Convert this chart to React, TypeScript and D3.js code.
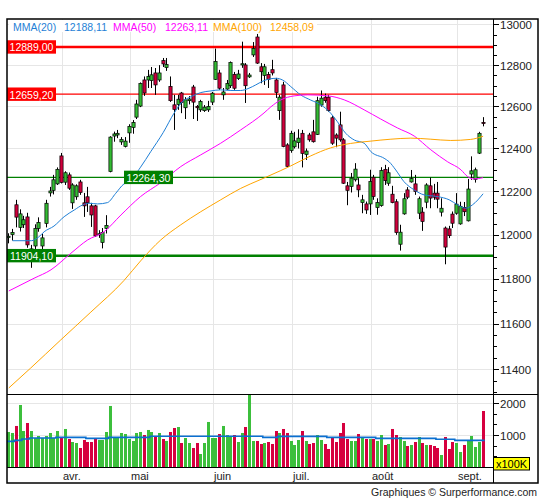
import { useEffect, useRef } from "react";
import * as d3 from "d3";

// daily candles: open, high, low, close
const ohlc: [number, number, number, number][] = [
  [11986, 12006, 11960, 11992], [12000, 12026, 11973, 12010], [12137, 12160, 12033, 12080], [12033, 12116, 12014, 12095],
  [12045, 12086, 12030, 12068], [12081, 12100, 11940, 11953], [11890, 11953, 11849, 11935], [11948, 12047, 11931, 12028],
  [12028, 12079, 12013, 12056], [11948, 12003, 11926, 11985], [12051, 12160, 12033, 12144], [12192, 12220, 12175, 12201],
  [12204, 12276, 12185, 12253], [12234, 12311, 12229, 12302], [12365, 12379, 12236, 12241], [12242, 12293, 12229, 12286],
  [12276, 12287, 12206, 12214], [12146, 12237, 12118, 12229], [12174, 12232, 12160, 12225], [12243, 12253, 12183, 12194],
  [12146, 12192, 12081, 12132], [12174, 12220, 12104, 12146], [12132, 12146, 12035, 12090], [12132, 12137, 11990, 11994],
  [12000, 12020, 11985, 12004], [11964, 12030, 11937, 12010], [12028, 12089, 12005, 12042], [12292, 12458, 12288, 12454],
  [12459, 12480, 12432, 12469], [12464, 12488, 12449, 12472], [12431, 12454, 12417, 12442], [12410, 12454, 12405, 12435],
  [12474, 12515, 12427, 12505], [12500, 12535, 12470, 12524], [12549, 12632, 12540, 12612], [12602, 12716, 12597, 12711],
  [12728, 12745, 12651, 12665], [12728, 12777, 12689, 12745], [12725, 12791, 12689, 12753], [12762, 12786, 12656, 12704],
  [12728, 12800, 12719, 12762], [12822, 12835, 12791, 12806], [12788, 12835, 12772, 12803], [12697, 12745, 12622, 12628],
  [12608, 12656, 12488, 12586], [12610, 12656, 12584, 12635], [12665, 12670, 12568, 12619], [12594, 12645, 12540, 12632],
  [12628, 12650, 12610, 12636], [12694, 12704, 12540, 12621], [12600, 12607, 12531, 12594], [12584, 12632, 12574, 12624],
  [12580, 12607, 12574, 12597], [12584, 12627, 12574, 12600], [12621, 12670, 12607, 12664], [12731, 12881, 12728, 12818],
  [12762, 12777, 12680, 12688], [12656, 12689, 12632, 12670], [12684, 12728, 12680, 12711], [12700, 12818, 12689, 12813],
  [12755, 12767, 12680, 12688], [12735, 12777, 12728, 12757], [12801, 12915, 12787, 12807], [12801, 12810, 12617, 12700],
  [12743, 12762, 12738, 12752], [12850, 12913, 12840, 12882], [12938, 12953, 12806, 12810], [12792, 12810, 12712, 12768],
  [12750, 12806, 12704, 12792], [12755, 12767, 12689, 12731], [12778, 12826, 12750, 12762], [12728, 12738, 12641, 12667],
  [12580, 12656, 12536, 12645], [12704, 12719, 12406, 12409], [12417, 12425, 12313, 12316], [12390, 12484, 12380, 12472],
  [12408, 12479, 12400, 12436], [12428, 12491, 12400, 12449], [12472, 12488, 12311, 12377], [12372, 12400, 12346, 12388],
  [12464, 12474, 12432, 12441], [12479, 12536, 12428, 12432], [12467, 12647, 12464, 12628], [12607, 12677, 12599, 12640],
  [12645, 12662, 12618, 12628], [12645, 12656, 12575, 12580], [12546, 12554, 12417, 12425], [12464, 12472, 12406, 12449],
  [12512, 12575, 12432, 12441], [12441, 12449, 12234, 12237], [12225, 12243, 12135, 12204], [12222, 12285, 12194, 12261],
  [12253, 12331, 12245, 12303], [12229, 12261, 12172, 12206], [12147, 12183, 12098, 12160], [12141, 12152, 12095, 12113],
  [12141, 12300, 12090, 12245], [12265, 12276, 12160, 12175], [12124, 12167, 12091, 12147], [12133, 12312, 12128, 12296],
  [12302, 12323, 12229, 12249], [12237, 12312, 12225, 12286], [12186, 12225, 12144, 12147], [12151, 12163, 11999, 12009],
  [11956, 12045, 11927, 12011], [12095, 12191, 12091, 12165], [12206, 12219, 12163, 12172], [12243, 12299, 12240, 12259],
  [12234, 12276, 12183, 12198], [12098, 12175, 12071, 12165], [12103, 12126, 12017, 12060], [12149, 12237, 12121, 12229],
  [12225, 12264, 12121, 12168], [12191, 12234, 12160, 12172], [12191, 12243, 12121, 12163], [12103, 12167, 12083, 12121],
  [12030, 12037, 11865, 11943], [12026, 12040, 11984, 11995], [12094, 12106, 12030, 12052], [12098, 12191, 12091, 12140],
  [12049, 12151, 12045, 12130], [12125, 12150, 12085, 12105], [12063, 12257, 12060, 12210], [12280, 12363, 12253, 12295],
  [12255, 12310, 12240, 12300], [12378, 12479, 12374, 12472], [12524, 12549, 12505, 12518],
];

// volume, in units of 100K
const volumes = [
  1094, 1063, 1282, 1938, 1125, 1375, 1125, 906, 969, 906,
  969, 1063, 906, 1125, 938, 1188, 875, 781, 750, 594,
  844, 781, 781, 906, 844, 844, 1094, 1907, 938, 906,
  1063, 1031, 875, 813, 1063, 1094, 1000, 1157, 1094, 969,
  1063, 875, 813, 1094, 1219, 1250, 750, 906, 750, 594,
  750, 406, 750, 1407, 906, 906, 1031, 1282, 1000, 969,
  1000, 781, 1063, 1250, 2300, 813, 813, 719, 750, 781,
  719, 1125, 1063, 1188, 1063, 813, 688, 844, 1125, 813,
  719, 750, 1000, 844, 719, 563, 906, 781, 1063, 1375,
  875, 813, 813, 1031, 938, 875, 875, 875, 813, 1000,
  688, 719, 1188, 1000, 938, 813, 656, 688, 781, 938,
  750, 688, 688, 656, 594, 375, 938, 563, 781, 750,
  469, 688, 844, 969, 625, 781, 1750,
];

// moving averages: [bar index, value]
const ma20: [number, number][] = [
  [1, 11972], [6, 11972], [8, 11990], [9.4, 12013], [12, 12039], [14.7, 12082], [17.4, 12113], [19.6, 12136],
  [21.3, 12144], [23.6, 12141], [26.2, 12147], [28.4, 12190], [30.6, 12234], [32, 12245], [35, 12312],
  [37.7, 12385], [41, 12475], [43.9, 12568], [46.1, 12623], [48.4, 12647], [51, 12667], [53.7, 12675],
  [56.3, 12680], [59, 12677], [61.6, 12677], [63.8, 12688], [65.6, 12704], [67.8, 12725], [71, 12736],
  [72.7, 12728], [74.9, 12696], [77.6, 12655], [80.2, 12631], [82.9, 12608], [85.5, 12568], [87.3, 12527],
  [89.5, 12472], [91.8, 12440], [94.4, 12425], [96.2, 12385], [99.7, 12354], [101, 12338], [102.8, 12299],
  [105, 12244], [107.7, 12206], [110.3, 12183], [113.9, 12175], [117, 12160], [119.2, 12137], [121.4, 12121],
  [123.2, 12137], [126, 12188],
];
const ma50: [number, number][] = [
  [0, 11745], [6.7, 11802], [11.2, 11840], [16.5, 11915], [20.9, 11975], [25.3, 12013], [29.8, 12090],
  [35, 12175], [40.4, 12240], [45.7, 12315], [51, 12370], [56.3, 12425], [61.6, 12488], [67.8, 12569],
  [69.6, 12598], [72.3, 12632], [75.8, 12651], [79.4, 12656], [84.8, 12651], [89.1, 12632], [94.4, 12584],
  [98.8, 12540], [103.3, 12497], [107.7, 12459], [112.1, 12394], [116.6, 12337], [120.1, 12300],
  [121.9, 12268], [123.6, 12257], [126, 12263],
];
const ma100: [number, number][] = [
  [0, 11319], [5.8, 11405], [13.8, 11528], [21.8, 11651], [30.6, 11792], [35, 11880], [40.4, 11976],
  [45.7, 12045], [51, 12105], [56.3, 12160], [61.6, 12213], [67, 12255], [72.1, 12295], [74.9, 12318],
  [80.2, 12365], [85.5, 12403], [90.8, 12424], [96.2, 12435], [101.5, 12444], [106.8, 12449],
  [112.1, 12444], [117.4, 12438], [122.7, 12443], [126, 12458],
];

// average volume, stepped: start bar and value
const volAvgStarts = [0, 2, 4, 6, 13, 21, 27, 38, 68, 72, 85, 98, 114, 119];
const volAvgValues = [802, 833, 875, 906, 927, 896, 927, 962, 927, 958, 927, 896, 865, 833];

const monthStarts = [14, 32, 54, 75, 96, 119];
const monthLabels = ["avr.", "mai", "juin", "juil.", "août", "sept."];
const priceTicks = [11400, 11600, 11800, 12000, 12200, 12400, 12600, 12800, 13000];
const volumeTicks = [1000, 2000];

const levelValues = [12889.0, 12659.2, 12264.3, 11904.1];
const levelLabels = ["12889,00", "12659,20", "12264,30", "11904,10"];

const legendNames = ["MMA(20)", "MMA(50)", "MMA(100)"];
const legendValues = ["12188,11", "12263,11", "12458,09"];

const FONT = "'Liberation Sans', Arial, sans-serif";
const GREEN = "#33bb33";
const RED = "#d0003c";

export default function App() {
  const svgRef = useRef<SVGSVGElement>(null);

  useEffect(() => {
    if (!svgRef.current) return;
    const svg = d3.select(svgRef.current);
    svg.selectAll("*").remove();

    const left = 7, right = 538, top = 19, plotRight = 493;
    const priceBottom = 394, volBottom = 467, bottom = 483;

    const x = d3.scaleLinear().domain([0, ohlc.length - 1]).range([8.3, 482.6]);
    const y = d3.scaleLog().domain([11293, 13027]).range([priceBottom, top]);
    const yv = d3.scaleLinear().domain([0, 2000]).range([volBottom, 403]);
    const px = (i: number) => Math.round(x(i));

    svg.append("rect").attr("width", 545).attr("height", 500).attr("fill", "#fff");

    const defs = svg.append("defs");
    defs.append("clipPath").attr("id", "clipPrice").append("rect")
      .attr("x", left).attr("y", top).attr("width", plotRight - left).attr("height", priceBottom - top);
    defs.append("clipPath").attr("id", "clipVol").append("rect")
      .attr("x", left).attr("y", priceBottom).attr("width", plotRight - left).attr("height", volBottom - priceBottom);

    // grid
    const grid = svg.append("g").attr("stroke", "#e6e6e6").attr("stroke-width", 1);
    priceTicks.forEach(t => {
      const yy = Math.round(y(t)) + 0.5;
      grid.append("line").attr("x1", left).attr("x2", plotRight).attr("y1", yy).attr("y2", yy);
    });
    volumeTicks.forEach(t => {
      const yy = Math.round(yv(t)) + 0.5;
      grid.append("line").attr("x1", left).attr("x2", plotRight).attr("y1", yy).attr("y2", yy);
    });
    monthStarts.forEach(m => {
      const xx = px(m) + 1.5;
      grid.append("line").attr("x1", xx).attr("x2", xx).attr("y1", top).attr("y2", volBottom);
    });

    const price = svg.append("g").attr("clip-path", "url(#clipPrice)");

    // support / resistance levels
    const levelColors = ["#ff0000", "#ff0000", "#008000", "#008000"];
    const levelWidths = [2.5, 1.3, 1.3, 2.5];
    levelValues.forEach((v, i) => {
      price.append("line").attr("x1", left).attr("x2", plotRight)
        .attr("y1", y(v)).attr("y2", y(v))
        .attr("stroke", levelColors[i]).attr("stroke-width", levelWidths[i]);
    });

    // candles
    ohlc.forEach(([o, h, l, c], i) => {
      const cx = px(i) + 0.5;
      const up = c >= o;
      price.append("line").attr("x1", cx).attr("x2", cx).attr("y1", y(h)).attr("y2", y(l))
        .attr("stroke", "#000").attr("stroke-width", 1);
      const y0 = y(Math.max(o, c));
      const hgt = Math.max(1, Math.abs(y(o) - y(c)));
      price.append("rect").attr("x", cx - 1.6).attr("y", y0).attr("width", 3.2).attr("height", hgt)
        .attr("fill", up ? GREEN : RED).attr("stroke", "#000").attr("stroke-width", 0.7);
    });

    // moving averages
    const maLine = d3.line<[number, number]>().x(d => x(d[0]) + 0.5).y(d => y(d[1])).curve(d3.curveMonotoneX);
    const maColors = ["#1f7fd6", "#ff00ff", "#ffa500"];
    [ma20, ma50, ma100].forEach((m, i) => {
      price.append("path").datum(m).attr("d", maLine).attr("fill", "none")
        .attr("stroke", maColors[i]).attr("stroke-width", 1);
    });

    // level labels
    const labelX = [left, left, 124, left];
    levelValues.forEach((v, i) => {
      const yy = y(v);
      price.append("rect").attr("x", labelX[i]).attr("y", yy - 6.7).attr("width", 49).attr("height", 13.4)
        .attr("fill", levelColors[i]);
      price.append("text").attr("x", labelX[i] + 24.5).attr("y", yy + 0.5)
        .attr("text-anchor", "middle").attr("dominant-baseline", "central")
        .attr("font-family", FONT).attr("font-size", 10.5).attr("fill", "#fff")
        .text(levelLabels[i]);
    });

    // legend
    const legendX = [13, 64, 113, 165, 213, 270];
    const legendBox = price.append("g");
    legendBox.append("rect").attr("x", 9).attr("y", 20).attr("width", 308).attr("height", 12).attr("fill", "#fff");
    legendNames.forEach((n, i) => {
      [n, legendValues[i]].forEach((t, j) => {
        legendBox.append("text").attr("x", legendX[i * 2 + j]).attr("y", 26.5)
          .attr("dominant-baseline", "central")
          .attr("font-family", FONT).attr("font-size", 10.5).attr("fill", maColors[i])
          .text(t);
      });
    });

    // volume
    const vol = svg.append("g").attr("clip-path", "url(#clipVol)");
    volumes.forEach((v, i) => {
      const [o, , , c] = ohlc[i];
      vol.append("rect").attr("x", px(i) - 1).attr("y", yv(v)).attr("width", 3).attr("height", volBottom - yv(v))
        .attr("fill", c >= o ? "#3cbf3c" : "#d6003f");
    });
    const stepPts: [number, number][] = volAvgStarts.map((s, i) => [x(s) - 1.5, yv(volAvgValues[i])]);
    stepPts.push([x(ohlc.length - 1) + 2, yv(volAvgValues[volAvgValues.length - 1])]);
    vol.append("path").datum(stepPts).attr("d", d3.line().curve(d3.curveStepAfter))
      .attr("fill", "none").attr("stroke", "#0a6fd0").attr("stroke-width", 1.6);

    // right axis
    const axis = svg.append("g").attr("stroke", "#000").attr("stroke-width", 1);
    for (let v = 11300; v <= 13000; v += 50) {
      const yy = Math.round(y(v)) + 0.5;
      const major = v % 200 === 0;
      axis.append("line").attr("x1", plotRight).attr("x2", plotRight + (major ? 6 : 4)).attr("y1", yy).attr("y2", yy);
    }
    for (let k = 1; k <= 6; k++) {
      const v = (k * 1000) / 3;
      const yy = Math.round(yv(v)) + 0.5;
      const major = k % 3 === 0;
      axis.append("line").attr("x1", plotRight).attr("x2", plotRight + (major ? 6 : 4)).attr("y1", yy).attr("y2", yy);
    }
    priceTicks.forEach(t => {
      svg.append("text").attr("x", 500).attr("y", y(t) + 0.5).attr("dominant-baseline", "central")
        .attr("font-family", FONT).attr("font-size", 11.5).attr("fill", "#222").text(String(t));
    });
    volumeTicks.forEach(t => {
      svg.append("text").attr("x", 500).attr("y", yv(t) + 0.5).attr("dominant-baseline", "central")
        .attr("font-family", FONT).attr("font-size", 11.5).attr("fill", "#222").text(String(t));
    });
    svg.append("rect").attr("x", 493.5).attr("y", 457.5).attr("width", 36).attr("height", 12.5)
      .attr("fill", "#ffff00").attr("stroke", "#000").attr("stroke-width", 1);
    svg.append("text").attr("x", 511.5).attr("y", 464).attr("text-anchor", "middle").attr("dominant-baseline", "central")
      .attr("font-family", FONT).attr("font-size", 11).attr("fill", "#000").text("x100K");

    // month labels
    monthStarts.forEach((m, i) => {
      svg.append("text").attr("x", px(m) + 2).attr("y", 475.5).attr("dominant-baseline", "central")
        .attr("font-family", FONT).attr("font-size", 11).attr("fill", "#222").text(monthLabels[i]);
    });

    // frame
    const frame = svg.append("g").attr("stroke", "#000").attr("fill", "none");
    frame.append("line").attr("x1", plotRight + 0.5).attr("x2", plotRight + 0.5).attr("y1", top).attr("y2", bottom).attr("stroke-width", 1);
    frame.append("line").attr("x1", left).attr("x2", right).attr("y1", priceBottom + 0.5).attr("y2", priceBottom + 0.5).attr("stroke-width", 1.2);
    frame.append("line").attr("x1", left).attr("x2", plotRight).attr("y1", volBottom + 0.5).attr("y2", volBottom + 0.5).attr("stroke-width", 1.2);
    frame.append("rect").attr("x", left).attr("y", top).attr("width", right - left).attr("height", bottom - top).attr("stroke-width", 1.5);

    svg.append("text").attr("x", 537).attr("y", 492).attr("text-anchor", "end").attr("dominant-baseline", "central")
      .attr("font-family", FONT).attr("font-size", 10.5).attr("fill", "#222").text("Graphiques © Surperformance.com");
  }, []);

  return (
    <svg ref={svgRef} width={545} height={500}
      style={{ position: "absolute", left: 0, top: 0, display: "block" }} />
  );
}
